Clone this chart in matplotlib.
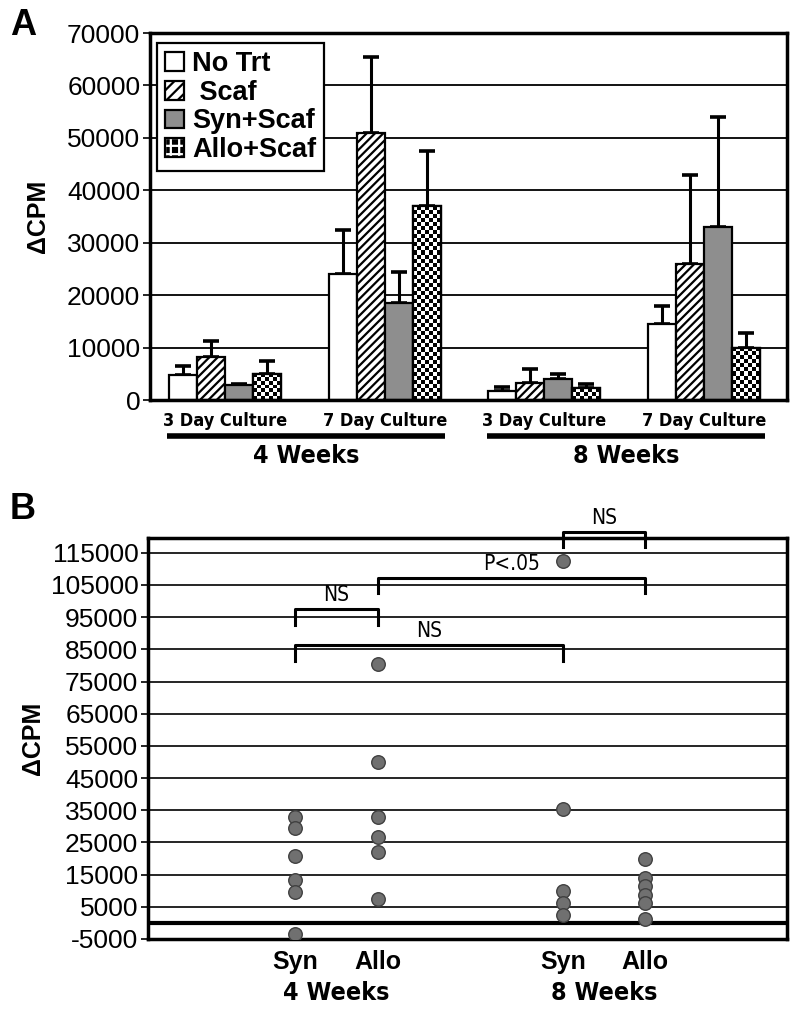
"""Two-panel figure: proliferation bars (A) and per-animal dot plot (B)."""
import warnings
warnings.filterwarnings("ignore")
import matplotlib
matplotlib.use("Agg")
import matplotlib.pyplot as plt
import matplotlib.transforms as mtransforms
from matplotlib.patches import Patch
from matplotlib.legend_handler import HandlerTuple
from matplotlib import font_manager
import numpy as np

plt.rcParams.update({
    "font.family": ["Liberation Sans", "DejaVu Sans"],
    "font.size": 18,
    "hatch.linewidth": 1.6,
    "axes.unicode_minus": False,
})

# condensed face for the small category labels, if one is installed
names = {f.name for f in font_manager.fontManager.ttflist}
if "Liberation Sans Narrow" in names:
    NARROW = dict(family="Liberation Sans Narrow")
elif any("Condensed" in f.fname for f in font_manager.fontManager.ttflist
         if f.name == "DejaVu Sans"):
    NARROW = dict(family="DejaVu Sans", stretch="condensed")
else:
    NARROW = dict(family="Liberation Sans")

# ── data: panel A ──────────────────────────────────────────────────────────
groups = ["3 Day Culture", "7 Day Culture", "3 Day Culture", "7 Day Culture"]
periods = ["4 Weeks", "8 Weeks"]
treatments = ["No Trt", " Scaf", "Syn+Scaf", "Allo+Scaf"]
no_trt = [4700, 24000, 1800, 14500]
scaf = [8300, 51000, 3300, 26000]
syn_scaf = [2800, 18500, 4000, 33000]
allo_scaf = [5000, 37000, 2200, 10000]
no_trt_err = [1800, 8500, 700, 3500]
scaf_err = [3000, 14500, 2700, 17000]
syn_scaf_err = [300, 6000, 1000, 21000]
allo_scaf_err = [2500, 10500, 800, 2700]

# ── data: panel B ──────────────────────────────────────────────────────────
b_labels = ["Syn", "Allo", "Syn", "Allo"]
syn_4wk = [32900, 29400, 20900, 13400, 9700, -3400]
allo_4wk = [80600, 50100, 32900, 26800, 21900, 7300]
syn_8wk = [112500, 35400, 9900, 6200, 2500]
allo_8wk = [19700, 13800, 11300, 8700, 6200, 1200]
# (from index, to index, label)
brackets = [(2, 3, "NS"), (1, 3, "P<.05"), (0, 1, "NS"), (0, 2, "NS")]
bracket_y = [121500, 107200, 97500, 86300]

fig = plt.figure(figsize=(8, 10.13), dpi=100)

# ── PANEL A ────────────────────────────────────────────────────────────────
ax = fig.add_axes([0.1875, 0.6051, 0.7965, 0.3623])
x = np.arange(len(groups))
w = 0.175
series = [no_trt, scaf, syn_scaf, allo_scaf]
errs = [no_trt_err, scaf_err, syn_scaf_err, allo_scaf_err]
styles = [
    dict(facecolor="white"),
    dict(facecolor="white", hatch="////"),
    dict(facecolor="#8e8e8e"),
    dict(facecolor="white"),
]
ax.set_axisbelow(True)
ax.yaxis.grid(True, color="black", linewidth=1.3)
all_bars = []
for i, (vals, err, st) in enumerate(zip(series, errs, styles)):
    pos = x + (i - 1.5) * w
    bars = ax.bar(pos, vals, width=w, edgecolor="black", linewidth=1.6,
                  zorder=2, **st)
    all_bars.append(bars)
    ax.errorbar(pos, vals, yerr=[np.zeros(len(vals)), err], fmt="none",
                ecolor="black", elinewidth=2.2, capsize=6, capthick=2.6,
                zorder=1.5)

# checkerboard fill for Allo+Scaf bars
px_per_unit = 367 / 70000
for rect in all_bars[3]:
    h = rect.get_height()
    nrows = max(1, int(round(h * px_per_unit / 4)))
    ncols = 7
    checker = np.add.outer(np.arange(nrows), np.arange(ncols)) % 2
    im = ax.imshow(checker, cmap="gray", vmin=0, vmax=1, origin="lower",
                   extent=[rect.get_x(), rect.get_x() + rect.get_width(), 0, h],
                   interpolation="nearest", aspect="auto", zorder=2.2)
    im.set_clip_path(rect)
ax.bar(x + 1.5 * w, allo_scaf, width=w, fill=False, edgecolor="black",
       linewidth=1.6, zorder=2.5)
ax.set_xlim(-0.469, 3.52)
ax.set_ylim(0, 70000)
ax.set_aspect("auto")

ax.set_yticks(np.arange(0, 70001, 10000))
ax.tick_params(axis="y", length=5, width=1.2, labelsize=19, pad=2)
ax.set_xticks([])
for s in ax.spines.values():
    s.set_linewidth(2.5)
ax.set_ylabel("\u0394CPM", fontsize=18, fontweight="bold", labelpad=12)

trans = mtransforms.blended_transform_factory(ax.transData, ax.transAxes)
for xi, g in zip(x, groups):
    ax.text(xi, -0.057, g, transform=trans, ha="center", va="center",
            fontsize=13, fontweight="bold", **NARROW)
for k, per in enumerate(periods):
    left = x[2 * k] - 2 * w - 0.01
    right = x[2 * k + 1] + 2 * w + 0.03
    ax.plot([left, right], [-0.098, -0.098], transform=trans, color="black",
            linewidth=4, clip_on=False, solid_capstyle="butt")
    ax.text((left + right) / 2, -0.152, per, transform=trans, ha="center",
            va="center", fontsize=18, fontweight="bold", **NARROW)

checker_handle = (Patch(facecolor="black", edgecolor="white", hatch="++"),
                  Patch(facecolor="none", edgecolor="black", linewidth=1.6))
handles = [Patch(facecolor="white", edgecolor="black", linewidth=1.6),
           Patch(facecolor="white", edgecolor="black", linewidth=1.6, hatch="///"),
           Patch(facecolor="#8e8e8e", edgecolor="black", linewidth=1.6),
           checker_handle]
leg = ax.legend(handles, treatments, loc="upper left",
                bbox_to_anchor=(0.011, 0.973), borderaxespad=0,
                fancybox=False, framealpha=1,
                edgecolor="black", handlelength=0.7, handleheight=0.7,
                handletextpad=0.3, labelspacing=0.1, borderpad=0.3,
                prop=dict(size=19.5, weight="bold"),
                handler_map={tuple: HandlerTuple(ndivide=1)})
leg.get_frame().set_linewidth(1.6)

fig.text(0.012, 0.975, "A", fontsize=26, fontweight="bold", va="center")

# ── PANEL B ────────────────────────────────────────────────────────────────
bx = fig.add_axes([0.185, 0.0731, 0.799, 0.3958])
positions = [0, 1, 3.23, 4.22]
point_sets = [syn_4wk, allo_4wk, syn_8wk, allo_8wk]
bx.set_axisbelow(True)
yt = np.arange(-5000, 115001, 10000)
bx.set_yticks(yt)
bx.yaxis.grid(True, color="black", linewidth=1.2)
bx.axhline(0, color="black", linewidth=3, zorder=1.5)
for p, pts in zip(positions, point_sets):
    bx.scatter([p] * len(pts), pts, s=95, color="#707070", edgecolor="#404040",
               linewidth=1.0, zorder=3)
bx.set_ylim(-5000, 119600)
bx.set_xlim(-1.771, 5.928)
bx.tick_params(axis="y", length=5, width=1.2, labelsize=19, pad=2)
bx.set_xticks(positions)
bx.set_xticklabels(b_labels, fontsize=18, fontweight="bold")
bx.tick_params(axis="x", length=0, pad=8)
for s in bx.spines.values():
    s.set_linewidth(2.5)
bx.set_ylabel("\u0394CPM", fontsize=18, fontweight="bold", labelpad=4)

btrans = mtransforms.blended_transform_factory(bx.transData, bx.transAxes)
for k, per in enumerate(periods):
    mid = (positions[2 * k] + positions[2 * k + 1]) / 2
    bx.text(mid, -0.135, per, transform=btrans, ha="center", va="center",
            fontsize=18, fontweight="bold", **NARROW)

for (i0, i1, lab), yb in zip(brackets, bracket_y):
    x0, x1 = positions[i0], positions[i1]
    bx.plot([x0, x0, x1, x1], [yb - 4800, yb, yb, yb - 4800], color="black",
            linewidth=2.2, clip_on=False, zorder=4)
    bx.text((x0 + x1) / 2, yb + 1200, lab, ha="center", va="bottom",
            fontsize=15, zorder=4, **NARROW)

fig.text(0.012, 0.497, "B", fontsize=26, fontweight="bold", va="center")

fig.savefig("out.png", dpi=100)
